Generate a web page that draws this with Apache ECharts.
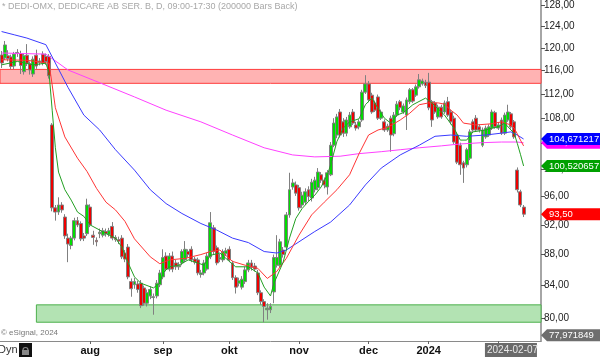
<!DOCTYPE html>
<html><head><meta charset="utf-8">
<script src="https://cdn.jsdelivr.net/npm/echarts@6/dist/echarts.min.js"></script>
<style>html,body{margin:0;padding:0;background:#fff}#c{width:600px;height:357px}</style>
</head><body><div id="c"></div>
<script>
// ---------- data ----------
const firstDay = '2023-06-21';
const holidays = ['2023-06-23','2023-12-25','2023-12-26','2024-01-01'];
const slotCount = 171;                       // trading-day slots on the x axis (incl. empty right margin)
const monthKeys  = ['2023-08','2023-09','2023-10','2023-11','2023-12','2024-01','2024-02'];
const monthTexts = ['aug','sep','okt','nov','dec','2024','feb'];
const yTicks = [80,84,88,92,96,100,104,108,112,116,120,124,128];
const yRange = [77.29, 128.96];
const titleText = '* DEDI-OMX, DEDICARE AB SER. B, D, 09:00-17:30 (200000 Bars Back)';

// daily candles: [open, close, low, high]
const ohlc = [
[118.75,117.33,116.45,119.46],[118.22,120.55,117.86,121.27],[118.6,118.1,117.6,119.6],[118.4,116.7,116.2,118.8],
[116.8,118.9,116.2,119.3],[119.0,119.2,118.4,119.8],[119.0,116.9,115.4,119.5],[115.8,118.6,115.3,119.0],
[118.7,117.3,116.8,120.7],[117.2,116.1,115.3,117.6],[115.4,118.0,114.9,118.5],[118.7,116.8,116.3,119.7],
[117.4,117.7,116.9,118.2],[118.9,117.3,116.9,119.4],[118.5,117.6,117.0,119.0],[118.5,115.1,114.6,118.9],
[106.9,94.4,93.9,107.2],[94.4,93.8,92.6,94.8],[93.8,94.8,93.4,95.9],[94.8,94.1,93.7,95.2],
[93.1,90.5,90.1,93.5],[90.2,89.4,87.0,90.8],[89.2,90.2,88.7,90.5],[90.2,92.6,89.9,93.0],
[92.6,92.0,91.7,93.1],[92.2,90.1,89.8,92.5],[90.5,90.2,89.8,90.9],[90.8,94.8,90.5,95.7],
[94.5,92.0,91.7,94.9],[90.6,90.3,89.3,91.2],[89.9,89.7,89.1,90.3],[90.8,91.0,90.2,91.5],
[90.6,91.2,90.3,91.6],[91.1,90.8,90.4,91.5],[90.7,91.2,90.4,91.6],[91.8,90.2,89.9,92.4],
[90.3,90.0,89.7,90.6],[90.0,89.8,89.4,90.4],[90.2,87.7,87.4,90.6],[88.2,87.4,87.0,88.6],
[89.0,85.1,84.8,89.4],[84.5,83.6,82.6,84.9],[84.1,84.5,83.6,85.0],[84.2,83.5,83.1,84.6],
[84.3,81.5,81.2,84.7],[83.7,81.8,81.5,84.0],[81.8,83.1,81.4,83.5],[82.7,83.5,82.3,83.9],
[82.5,82.6,80.4,83.0],[82.7,84.3,82.4,84.7],[84.1,85.6,83.8,86.0],[85.1,87.6,84.8,88.7],
[87.8,86.1,85.8,88.3],[86.1,87.8,85.8,88.2],[87.8,86.1,85.7,88.4],[86.9,86.4,86.0,87.3],
[86.4,86.6,86.0,87.0],[86.9,88.4,86.6,88.7],[87.3,88.7,87.0,89.8],[88.4,88.0,87.6,88.7],
[88.7,87.3,87.0,89.1],[87.4,87.0,86.7,87.7],[87.3,85.6,85.3,87.6],[85.4,85.6,85.0,86.0],
[85.6,86.9,85.3,87.3],[86.1,87.8,85.9,88.2],[87.7,92.3,87.4,93.8],[91.6,88.4,88.0,92.0],
[88.9,86.9,86.6,89.2],[87.4,87.6,87.0,88.1],[87.3,88.4,87.0,88.7],[88.1,88.5,87.8,88.9],
[88.7,87.3,87.0,89.1],[86.9,85.0,84.7,87.2],[85.0,83.8,83.0,85.3],[84.3,84.6,83.9,85.0],
[83.8,84.8,83.5,85.2],[84.5,86.0,84.2,86.4],[86.0,86.9,85.7,87.3],[86.9,86.3,85.9,87.3],
[86.5,86.1,85.8,86.9],[85.6,83.1,82.8,86.0],[83.1,82.0,81.6,83.4],[82.0,81.4,79.5,82.3],
[81.0,81.2,79.8,81.8],[81.0,81.4,80.6,81.8],[83.2,87.6,81.8,88.0],[86.6,87.6,86.3,90.6],
[86.6,89.7,86.3,90.1],[88.6,88.0,87.6,89.0],[89.0,93.4,88.7,93.8],[93.4,97.0,93.0,99.5],
[97.4,98.0,97.0,98.6],[97.7,96.5,96.1,98.2],[97.3,94.4,94.0,97.7],[94.8,96.2,94.4,96.7],
[95.2,96.7,94.8,97.2],[97.0,96.0,95.3,97.5],[95.8,98.1,95.3,98.6],[97.0,98.4,96.6,98.9],
[97.3,99.6,96.9,100.2],[99.2,98.4,98.0,99.6],[98.4,97.7,97.2,98.8],[97.4,99.5,96.3,99.9],
[99.2,103.7,99.0,104.2],[103.7,107.2,103.4,108.0],[105.3,108.2,104.8,108.7],[109.0,105.3,104.9,109.5],
[107.4,105.6,105.0,108.0],[105.6,107.7,105.1,108.2],[106.6,108.5,106.3,109.0],[109.0,107.2,106.9,109.5],
[106.9,106.4,106.0,107.4],[106.6,107.4,106.2,107.8],[107.7,112.3,107.4,112.7],[112.3,113.7,112.0,115.2],
[113.7,111.0,110.6,114.2],[111.8,109.0,108.7,112.2],[110.5,109.3,109.0,110.9],[111.5,108.0,107.7,111.9],
[108.0,109.0,107.7,109.4],[107.4,106.1,105.8,107.8],[106.1,106.7,105.8,107.1],[108.0,105.3,102.7,108.4],
[105.5,108.5,105.1,109.0],[108.5,110.3,108.2,110.8],[110.7,109.7,109.3,111.0],[109.0,110.0,108.7,110.4],
[108.5,111.0,106.1,111.4],[110.7,112.7,110.3,113.0],[112.7,110.8,110.5,113.0],[111.8,113.2,111.5,113.6],
[113.2,114.4,112.9,115.4],[113.7,114.2,113.4,114.6],[114.0,113.4,113.0,114.4],[114.0,109.7,109.3,115.6],
[110.7,107.7,106.6,111.0],[110.5,109.0,108.7,110.8],[108.2,109.8,107.9,110.2],[109.8,108.2,107.9,110.2],
[109.0,110.5,108.7,110.9],[110.7,108.5,108.2,111.5],[109.0,107.4,107.0,109.4],[108.0,104.2,103.9,108.4],
[105.3,101.1,100.8,105.7],[103.7,100.7,99.2,104.1],[101.0,100.2,98.0,101.3],[100.7,103.0,100.3,103.3],
[101.7,105.8,101.4,106.2],[107.4,106.1,105.8,107.8],[108.0,106.1,105.8,108.5],[106.6,106.1,105.7,107.0],
[103.7,106.1,103.4,106.5],[105.0,106.4,104.7,106.8],[105.3,106.6,105.0,107.0],[106.4,109.0,106.1,109.4],
[108.9,106.6,106.3,109.2],[106.4,106.9,106.1,107.3],[107.7,105.6,105.3,108.1],[105.6,108.5,105.3,108.9],
[107.7,109.0,107.4,110.2],[108.7,106.6,106.3,109.0],[107.4,105.0,104.7,107.7],[99.9,97.0,96.6,100.3],
[96.7,94.8,94.5,97.0],[94.5,93.5,93.1,94.8]
];

// moving averages: [candle index, value]
const fastLine = [[0,117.0],[5,117.6],[10,117.0],[14,117.3],[15,115.6],[16,109.3],[17,103.3],[18,99.6],[20,97.0],[22,95.5],[24,93.8],[26,93.2],[28,92.0],[31,91.3],[34,90.6],[36,90.2],[38,89.0],[40,86.9],[42,85.1],[44,84.3],[48,83.7],[50,84.3],[51,85.6],[53,86.4],[56,86.6],[59,87.3],[62,86.9],[64,86.6],[66,87.9],[69,88.2],[72,87.1],[74,86.4],[78,86.4],[81,85.6],[83,83.8],[85,82.7],[86,84.2],[89,87.0],[91,90.2],[93,92.9],[95,94.3],[97,95.3],[99,96.2],[101,97.4],[103,99.2],[104,100.7],[106,104.3],[108,106.4],[110,107.4],[113,107.9],[115,110.2],[117,111.3],[119,109.6],[121,108.0],[123,107.2],[125,108.5],[127,108.9],[130,110.2],[134,111.3],[136,110.5],[140,108.5],[143,106.4],[145,104.5],[147,104.5],[149,105.8],[153,106.1],[155,106.4],[157,106.6],[159,107.2],[161,106.1],[162,105.6],[163,104.0],[164,102.3],[165,100.520657]];
const midLine = [[0,117.9],[8,117.8],[15,117.3],[16,113.5],[17,109.7],[20,105.0],[24,101.7],[27,99.7],[30,97.2],[33,95.2],[36,94.1],[39,92.5],[42,90.1],[47,87.7],[50,86.8],[53,87.3],[58,87.5],[63,88.0],[66,88.4],[69,88.6],[73,87.1],[77,86.6],[81,86.2],[84,84.9],[87,85.8],[90,87.5],[94,90.6],[98,93.4],[102,95.2],[106,97.0],[110,99.2],[113,102.4],[116,105.3],[119,106.1],[122,106.5],[126,107.7],[129,108.8],[132,110.2],[135,110.5],[138,110.5],[140,110.3],[142,109.3],[144,108.5],[146,107.2],[150,106.9],[155,107.1],[158,107.4],[161,106.9],[162,106.4],[163,105.5],[164,104.5],[165,103.6]];
const slowLine = [[0,123.0],[4,122.4],[8,121.8],[14,120.6],[16,118.4],[21,113.1],[26,108.5],[31,106.1],[36,103.0],[42,99.9],[47,97.0],[52,95.0],[57,93.6],[63,92.2],[68,91.3],[73,90.2],[78,89.6],[83,88.4],[87,88.2],[90,88.6],[94,89.7],[99,91.1],[104,92.4],[110,94.8],[115,97.7],[120,100.2],[126,102.2],[132,103.7],[137,105.1],[142,105.3],[147,105.1],[153,105.3],[158,105.6],[161,105.8],[163,105.3],[165,104.671217]];
const longLine = [[0,119.1],[14,118.9],[21,116.1],[31,113.9],[42,111.5],[52,109.3],[63,107.4],[73,105.3],[83,103.3],[92,102.2],[99,101.9],[107,102.0],[113,102.4],[120,102.7],[126,103.0],[132,103.3],[139,103.6],[145,103.9],[152,104.1],[158,104.2],[163,104.2],[165,104.074304]];

const resistZone = [113.8, 116.2];
const supportZone = [79.5, 81.6];
const supportStart = '2023-07-07';
const tagValues = [104.074304, 104.671217, 100.520657, 93.50, 77.971849];
const tagDecimals = [6, 6, 6, 2, 6];
const cursorDate = '2024-02-07';

// ---------- build ----------
const L = Math.log;
function pad(n){return n<10?'0'+n:''+n;}
const dates = [];
(function(){
  const p = firstDay.split('-').map(Number);
  let t = Date.UTC(p[0], p[1]-1, p[2]);
  while (dates.length < slotCount) {
    const d = new Date(t);
    const s = d.getUTCFullYear()+'-'+pad(d.getUTCMonth()+1)+'-'+pad(d.getUTCDate());
    const wd = d.getUTCDay();
    if (wd !== 0 && wd !== 6 && holidays.indexOf(s) < 0) dates.push(s);
    t += 86400000;
  }
})();
const monthLabelAt = {};
monthKeys.forEach(function(k, j){
  for (let i = 0; i < dates.length; i++) { if (dates[i].slice(0,7) === k) { monthLabelAt[dates[i]] = monthTexts[j]; break; } }
});
function isMonthStart(idx, val){ return monthLabelAt[dates[idx]] !== undefined; }
function fill(pairs){
  const a = new Array(ohlc.length).fill(null);
  pairs.forEach(function(p){ a[p[0]] = L(p[1]); });
  return a;
}
const FONT = '"Liberation Sans", Arial, sans-serif';
const fmt = function(v, dec){ return v.toFixed(dec).replace('.', ','); };

const chart = echarts.init(document.getElementById('c'), null, {renderer:'canvas'});
function lineSeries(pairs, color){
  return {type:'line', data: fill(pairs), connectNulls:true, symbol:'none', showSymbol:false,
    lineStyle:{color:color, width:1}, silent:true, z:3};
}
chart.setOption({
  animation:false,
  backgroundColor:'#ffffff',
  grid:{left:0, right:59, top:0, bottom:16, containLabel:false},
  xAxis:{type:'category', data:dates, boundaryGap:true,
    axisLine:{show:true, lineStyle:{color:'#8a8a8a', width:1}},
    axisTick:{show:true, interval:isMonthStart, alignWithLabel:true, length:3, lineStyle:{color:'#666'}},
    axisLabel:{interval:isMonthStart, formatter:function(v){ return monthLabelAt[v] || ''; },
      color:'#111', fontWeight:'bold', fontSize:11, margin:4, fontFamily:FONT},
    splitLine:{show:false}},
  yAxis:{type:'value', position:'right', min:L(yRange[0]), max:L(yRange[1]),
    axisLine:{show:true, lineStyle:{color:'#a6a6a6', width:2}},
    axisTick:{show:true, length:4, customValues: yTicks.map(L), lineStyle:{color:'#555'}},
    axisLabel:{show:true, customValues: yTicks.map(L), margin:3, color:'#222', fontSize:10, fontFamily:FONT,
      formatter:function(v){ return fmt(Math.exp(v), 2); }},
    splitLine:{show:false}},
  series:[
    {type:'candlestick', data: ohlc.map(function(c){ return c.map(L); }), barWidth:3.4, silent:true, z:2,
      itemStyle:{color:'#00dd00', color0:'#ee0000', borderColor:'#808080', borderColor0:'#808080', borderWidth:1},
      markArea:{silent:true, z:1, data:[
        [{yAxis:L(resistZone[1]), itemStyle:{color:'#ffb3b3', borderColor:'#ff3c3c', borderWidth:1}}, {yAxis:L(resistZone[0])}],
        [{xAxis:supportStart, yAxis:L(supportZone[1]), itemStyle:{color:'#b3e3b3', borderColor:'#4cb04c', borderWidth:1}}, {yAxis:L(supportZone[0])}]
      ]}},
    lineSeries(longLine, '#ff40ff'),
    lineSeries(slowLine, '#3a3aff'),
    lineSeries(midLine, '#ff3535'),
    lineSeries(fastLine, '#22a022')
  ]
});

// ---------- annotations placed through the chart's own scales ----------
const tagColors = ['#ff00ff', '#0000ff', '#00a000', '#ff0000', '#6e6e6e'];
const gfx = [];
gfx.push({type:'text', left:2, top:2, silent:true, style:{text:titleText, fill:'#a8a8a8', font:'9px '+FONT}});
gfx.push({type:'text', left:1, top:329, silent:true, style:{text:'\u00a9 eSignal, 2024', fill:'#777', font:'8px '+FONT}});
gfx.push({type:'rect', silent:true, shape:{x:0,y:343,width:18,height:14}, style:{fill:'#fff'}});
gfx.push({type:'text', silent:true, x:-2, y:344, style:{text:'Dyn', fill:'#333', font:'11px '+FONT}});
gfx.push({type:'rect', silent:true, shape:{x:19,y:343,width:13,height:14}, style:{fill:'#111'}});
gfx.push({type:'rect', silent:true, shape:{x:22,y:350,width:7,height:5}, style:{fill:'#888'}});
gfx.push({type:'arc', silent:true, shape:{cx:25.5, cy:350, r:2.5, startAngle:Math.PI, endAngle:2*Math.PI}, style:{stroke:'#888', lineWidth:1.2, fill:null}});
const xAxisRight = 541;
tagValues.forEach(function(v, i){
  const y = chart.convertToPixel({yAxisIndex:0}, L(v));
  gfx.push({type:'polygon', silent:true, z:100+i,
    shape:{points:[[xAxisRight, y],[xAxisRight+6, y-6],[600, y-6],[600, y+6],[xAxisRight+6, y+6]]},
    style:{fill:tagColors[i]}});
  gfx.push({type:'text', silent:true, z:100+i, x:xAxisRight+8, y:y-5,
    style:{text:fmt(v, tagDecimals[i]), fill:'#ffffff', font:'9.5px '+FONT}});
});
const cx = chart.convertToPixel({xAxisIndex:0}, cursorDate);
gfx.push({type:'rect', silent:true, z:100, shape:{x:cx-26, y:343, width:52, height:14}, style:{fill:'#6a6a6a'}});
gfx.push({type:'text', silent:true, z:101, x:cx-24, y:345, style:{text:cursorDate, fill:'#e8e8e8', font:'10px '+FONT}});
chart.setOption({graphic:gfx});
</script>
</body></html>
